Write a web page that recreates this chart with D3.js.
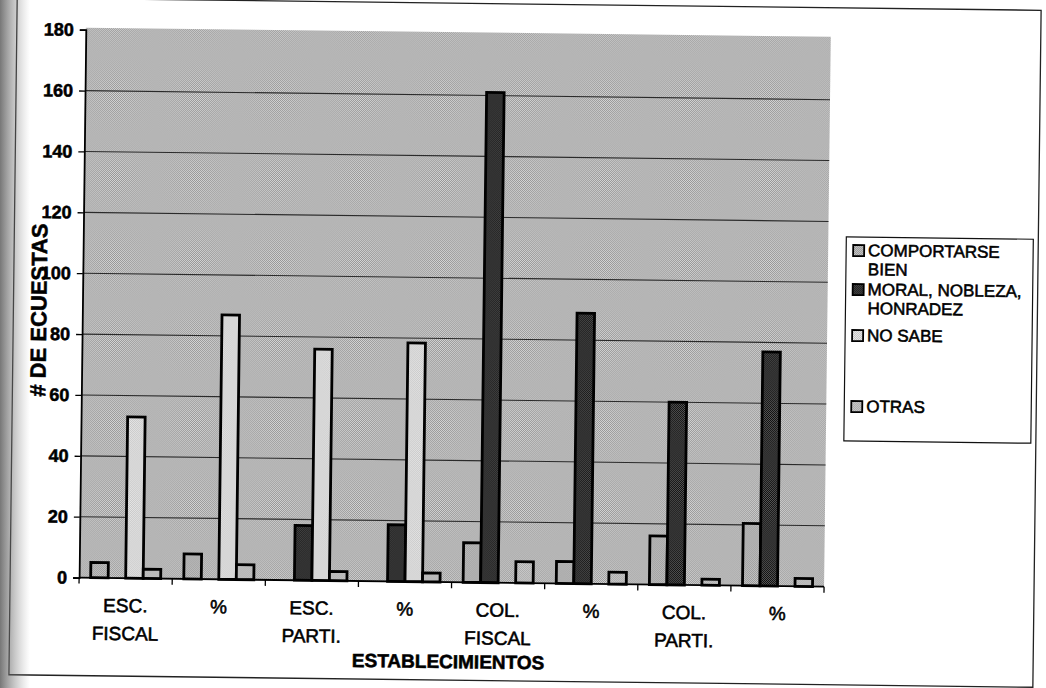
<!DOCTYPE html>
<html><head><meta charset="utf-8">
<script src="https://cdn.jsdelivr.net/npm/d3@7"></script>
<style>
html,body{margin:0;padding:0;background:#fff;}
svg{display:block;font-family:"Liberation Sans",Arial,sans-serif;}
svg text{stroke:#000;stroke-width:0.55px;}
</style></head>
<body>
<svg id="chart" width="1046" height="688"></svg>
<script>
// ---- data ----
const categoryLabels = [["ESC.","FISCAL"],["%"],["ESC.","PARTI."],["%"],["COL.","FISCAL"],["%"],["COL.","PARTI."],["%"]];
const seriesNames = [["COMPORTARSE","BIEN"],["MORAL, NOBLEZA,","HONRADEZ"],["NO SABE"],["OTRAS"]];
const comportarse = [5, 8.2, 0, 0, 13, 7.2, 16, 20.5];
const moral       = [0, 0, 18, 18.6, 161, 88.9, 60, 76.9];
const noSabe      = [53, 86.9, 76, 78.4, 0, 0, 0, 0];
const otras       = [3, 4.9, 3, 2.9, 7, 3.9, 2, 2.6];
const yTicks = [0,20,40,60,80,100,120,140,160,180];
const yTitle = "# DE ECUESTAS";
const xTitle = "ESTABLECIMIENTOS";

const series = [comportarse, moral, noSabe, otras];

const svg = d3.select("#chart");
const defs = svg.append("defs");
function checker(id, a, b){
  const p = defs.append("pattern").attr("id", id).attr("patternUnits","userSpaceOnUse")
    .attr("width",2).attr("height",2);
  p.append("rect").attr("width",2).attr("height",2).attr("fill",b);
  p.append("rect").attr("width",1).attr("height",1).attr("fill",a);
  p.append("rect").attr("x",1).attr("y",1).attr("width",1).attr("height",1).attr("fill",a);
}
checker("pBg", "#949494", "#d6d6d6");
checker("pComp", "#8e8e8e", "#d0d0d0");
checker("pMoral", "#0c0c0c", "#585858");
checker("pNoSabe", "#bdbdbd", "#f0f0f0");
checker("pOtras", "#9c9c9c", "#d8d8d8");
const fills = ["url(#pComp)","url(#pMoral)","url(#pNoSabe)","url(#pOtras)"];

// scanner edge shading
const lg = defs.append("linearGradient").attr("id","edge").attr("x1",0).attr("x2",1).attr("y1",0).attr("y2",0);
lg.append("stop").attr("offset","0%").attr("stop-color","#555").attr("stop-opacity",0.8);
lg.append("stop").attr("offset","100%").attr("stop-color","#999").attr("stop-opacity",0);

const g = svg.append("g").attr("transform","rotate(0.7,523,344)");

// chart border
g.append("rect").attr("x",13).attr("y",4).attr("width",1024).attr("height",677)
  .attr("fill","#fff").attr("stroke","#222").attr("stroke-width",1.3);

const L = 82, R = 827, T = 33, B = 583;
const x0 = d3.scaleBand().domain(d3.range(categoryLabels.length)).range([L,R]).padding(0);
const x1 = d3.scaleBand().domain(d3.range(series.length)).range([0,x0.bandwidth()]).paddingInner(0).paddingOuter(0.66);
const y = d3.scaleLinear().domain([0,180]).range([B, B - 180*3.044]);

// plot area
g.append("rect").attr("x",L).attr("y",T).attr("width",R-L).attr("height",B-T).attr("fill","url(#pBg)");

// gridlines
g.append("g").selectAll("line").data(yTicks.filter(d=>d>0 && d<180)).join("line")
  .attr("x1",L).attr("x2",R).attr("y1",d=>y(d)).attr("y2",d=>y(d))
  .attr("stroke","#2a2a2a").attr("stroke-width",1.1);

// bars
const groups = g.append("g").selectAll("g").data(categoryLabels.map((c,i)=>i)).join("g")
  .attr("transform",i=>`translate(${x0(i)},0)`);
groups.selectAll("rect").data(i=>series.map((s,k)=>({k, v:s[i]})).filter(d=>d.v>0)).join("rect")
  .attr("x",d=>x1(d.k)).attr("width",x1.bandwidth())
  .attr("y",d=>y(d.v)).attr("height",d=>y(0)-y(d.v))
  .attr("fill",d=>fills[d.k]).attr("stroke","#000").attr("stroke-width",2.8);

// y axis
const yAxis = g.append("g").attr("transform",`translate(${L},0)`)
  .call(d3.axisLeft(y).tickValues(yTicks).tickSize(6).tickPadding(6).tickFormat(d3.format("d")));
yAxis.select(".domain").attr("stroke","#000").attr("stroke-width",1.8);
yAxis.selectAll(".tick line").attr("stroke","#000").attr("stroke-width",1.3);
yAxis.selectAll("text").attr("font-size",18).attr("font-weight","bold").attr("fill","#000")
  .attr("font-family","'Liberation Sans',Arial,sans-serif");

// x axis
const xAxisG = g.append("g").attr("transform",`translate(0,${B})`);
xAxisG.append("line").attr("x1",L).attr("x2",R).attr("stroke","#000").attr("stroke-width",1.8);
xAxisG.selectAll("line.t").data(d3.range(categoryLabels.length+1)).join("line").attr("class","t")
  .attr("x1",i=> i<categoryLabels.length ? x0(i) : R).attr("x2",i=> i<categoryLabels.length ? x0(i) : R)
  .attr("y1",0).attr("y2",6).attr("stroke","#000").attr("stroke-width",1.3);
const xl = xAxisG.selectAll("text").data(categoryLabels.map((c,i)=>({c,i}))).join("text")
  .attr("text-anchor","middle").attr("font-size",19).attr("fill","#000")
  .attr("x",d=>x0(d.i)+x0.bandwidth()/2).attr("y",34);
xl.selectAll("tspan").data(d=>d.c.map((t,j)=>({t,j}))).join("tspan")
  .attr("x",function(){return d3.select(this.parentNode).attr("x");})
  .attr("dy",d=>d.j===0?0:28).text(d=>d.t);

// axis titles
g.append("text").attr("transform","translate(46,316) rotate(-90)").attr("text-anchor","middle")
  .attr("font-size",22).attr("font-weight","bold").attr("fill","#000").text(yTitle);
g.append("text").attr("x",452).attr("y",669).attr("text-anchor","middle")
  .attr("font-size",19).attr("font-weight","bold").attr("fill","#000").text(xTitle);

// legend
const leg = g.append("g");
leg.append("rect").attr("x",845).attr("y",233).attr("width",187).attr("height",204)
  .attr("fill","#fff").attr("stroke","#111").attr("stroke-width",1.2);
const rowY = [246, 285, 331, 402];
const li = leg.selectAll("g.item").data(seriesNames.map((n,k)=>({n,k}))).join("g").attr("class","item")
  .attr("transform",d=>`translate(852,${rowY[d.k]})`);
li.append("rect").attr("x",0).attr("y",-5).attr("width",11).attr("height",11)
  .attr("fill",d=>fills[d.k]).attr("stroke","#000").attr("stroke-width",1.8);
const lt = li.append("text").attr("x",15).attr("y",6).attr("font-size",17).attr("fill","#000");
lt.selectAll("tspan").data(d=>d.n.map((t,j)=>({t,j}))).join("tspan")
  .attr("x",15).attr("dy",d=>d.j===0?0:19).text(d=>d.t);

// scanner edge
svg.append("rect").attr("x",0).attr("y",0).attr("width",30).attr("height",688).attr("fill","url(#edge)");
</script>
</body></html>
